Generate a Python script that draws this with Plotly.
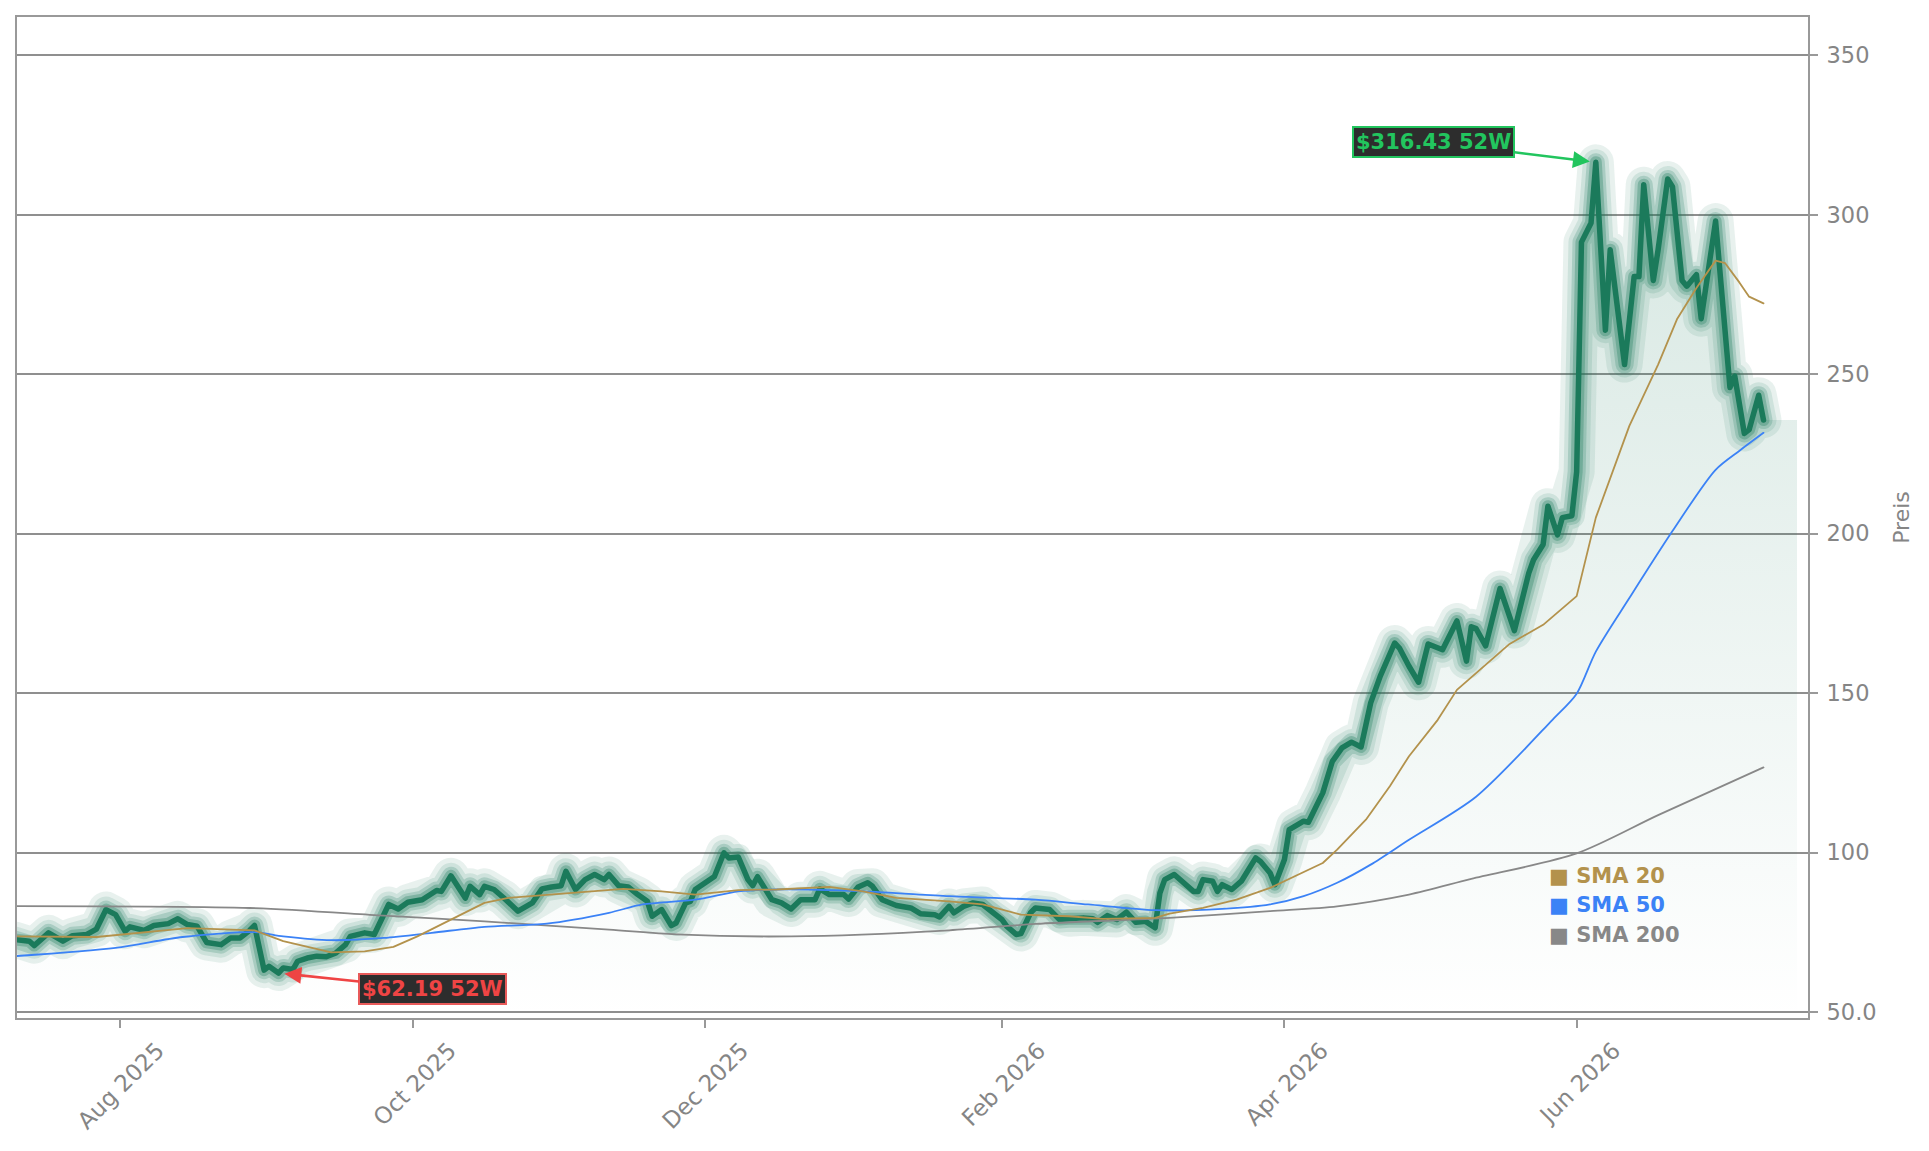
import plotly.graph_objects as go

# ---------------- data ----------------
price_dates = [
    "2025-07-10", "2025-07-13", "2025-07-14", "2025-07-17", "2025-07-20", "2025-07-22", "2025-07-25",
    "2025-07-27", "2025-07-29", "2025-07-31", "2025-08-02", "2025-08-03", "2025-08-06", "2025-08-08",
    "2025-08-11", "2025-08-13", "2025-08-15", "2025-08-17", "2025-08-19", "2025-08-21", "2025-08-22",
    "2025-08-24", "2025-08-26", "2025-08-28", "2025-08-29", "2025-08-31", "2025-09-01", "2025-09-03",
    "2025-09-04", "2025-09-06", "2025-09-07", "2025-09-09", "2025-09-11", "2025-09-13", "2025-09-15",
    "2025-09-17", "2025-09-18", "2025-09-21", "2025-09-23", "2025-09-26", "2025-09-28", "2025-09-30",
    "2025-10-03", "2025-10-06", "2025-10-07", "2025-10-09", "2025-10-12", "2025-10-13", "2025-10-15",
    "2025-10-16", "2025-10-18", "2025-10-20", "2025-10-23", "2025-10-26", "2025-10-28", "2025-10-30",
    "2025-11-01", "2025-11-02", "2025-11-04", "2025-11-06", "2025-11-08", "2025-11-10", "2025-11-11",
    "2025-11-13", "2025-11-15", "2025-11-17", "2025-11-19", "2025-11-20", "2025-11-22", "2025-11-24",
    "2025-11-25", "2025-11-27", "2025-11-28", "2025-11-29", "2025-12-03", "2025-12-05", "2025-12-06",
    "2025-12-08", "2025-12-10", "2025-12-11", "2025-12-12", "2025-12-15", "2025-12-17", "2025-12-19",
    "2025-12-21", "2025-12-24", "2025-12-25", "2025-12-27", "2025-12-30", "2025-12-31", "2026-01-02",
    "2026-01-04", "2026-01-05", "2026-01-07", "2026-01-10", "2026-01-13", "2026-01-15", "2026-01-18",
    "2026-01-19", "2026-01-21", "2026-01-22", "2026-01-24", "2026-01-26", "2026-01-28", "2026-01-30",
    "2026-02-01", "2026-02-02", "2026-02-04", "2026-02-05", "2026-02-07", "2026-02-08", "2026-02-11",
    "2026-02-13", "2026-02-15", "2026-02-18", "2026-02-20", "2026-02-21", "2026-02-23", "2026-02-25",
    "2026-02-27", "2026-03-01", "2026-03-03", "2026-03-05", "2026-03-06", "2026-03-07", "2026-03-09",
    "2026-03-11", "2026-03-13", "2026-03-14", "2026-03-15", "2026-03-17", "2026-03-18", "2026-03-19",
    "2026-03-21", "2026-03-23", "2026-03-24", "2026-03-26", "2026-03-27", "2026-03-29", "2026-03-30",
    "2026-04-01", "2026-04-02", "2026-04-03", "2026-04-05", "2026-04-06", "2026-04-09", "2026-04-11",
    "2026-04-13", "2026-04-15", "2026-04-17", "2026-04-19", "2026-04-21", "2026-04-24", "2026-04-25",
    "2026-04-27", "2026-04-29", "2026-05-01", "2026-05-04", "2026-05-07", "2026-05-09", "2026-05-10",
    "2026-05-11", "2026-05-13", "2026-05-16", "2026-05-19", "2026-05-22", "2026-05-23", "2026-05-25",
    "2026-05-26", "2026-05-28", "2026-05-29", "2026-05-31", "2026-06-01", "2026-06-02", "2026-06-04",
    "2026-06-05", "2026-06-07", "2026-06-08", "2026-06-11", "2026-06-13", "2026-06-14", "2026-06-15",
    "2026-06-17", "2026-06-18", "2026-06-20", "2026-06-21", "2026-06-23", "2026-06-24", "2026-06-26",
    "2026-06-27", "2026-06-30", "2026-07-03", "2026-07-04", "2026-07-06", "2026-07-07", "2026-07-09",
    "2026-07-10",
]
price_values = [
    72.7, 72.2, 70.8, 74.8, 72.2, 73.9, 74.3,
    76.0, 82.1, 80.5, 75.3, 76.7, 75.6, 77.1,
    77.7, 79.2, 77.4, 76.9, 71.8, 71.1, 71.1,
    73.2, 73.2, 75.6, 77.1, 63.1, 64.3, 62.19,
    63.8, 63.3, 65.9, 66.9, 67.5, 67.3, 68.5,
    71.1, 73.7, 74.8, 74.3, 83.7, 82.3, 84.4,
    85.2, 88.1, 87.8, 92.7, 85.7, 89.4, 86.8,
    89.4, 88.4, 85.8, 81.6, 84.2, 88.6, 89.2,
    89.6, 94.1, 88.4, 91.5, 93.1, 91.5, 93.1,
    89.6, 89.2, 86.8, 84.7, 80.0, 82.1, 77.1,
    77.9, 84.2, 84.7, 88.4, 92.5, 99.9, 98.3,
    98.6, 91.5, 89.6, 92.4, 85.2, 84.2, 82.3,
    85.2, 85.2, 88.6, 86.8, 86.8, 85.4, 89.2,
    90.5, 89.4, 85.2, 83.4, 82.6, 80.8, 80.5,
    79.8, 83.1, 81.1, 83.1, 84.2, 83.7, 81.1,
    79.0, 76.9, 74.3, 74.6, 81.1, 82.6, 82.1,
    79.0, 79.2, 79.5, 79.2, 78.1, 80.2, 79.0,
    81.3, 78.1, 78.4, 76.4, 87.3, 91.5, 93.1,
    90.7, 87.8, 87.8, 91.5, 91.0, 87.8, 89.9,
    88.4, 91.0, 93.6, 98.3, 97.2, 93.6, 89.9,
    97.8, 107.2, 108.2, 109.8, 109.5, 118.7, 128.6,
    132.8, 134.6, 133.1, 146.9, 155.3, 165.7, 164.1,
    158.4, 153.4, 165.4, 163.6, 172.6, 160.0, 170.8,
    170.2, 164.8, 182.8, 169.6, 187.6, 191.8, 196.6,
    208.6, 199.6, 205.0, 205.6, 219.4, 291.4, 297.4,
    316.43, 263.8, 289.0, 253.0, 280.6, 280.6, 309.4,
    279.4, 289.0, 311.2, 308.8, 279.4, 277.6, 281.2,
    267.4, 298.0, 245.8, 249.4, 231.4, 232.6, 243.4,
    235.6,
]
fill_end_date = "2026-07-17"

sma20_dates = [
    "2025-07-10", "2025-07-27", "2025-08-15", "2025-08-29", "2025-09-04", "2025-09-11", "2025-09-14",
    "2025-09-21", "2025-09-27", "2025-10-02", "2025-10-09", "2025-10-16", "2025-10-21", "2025-10-25",
    "2025-11-05", "2025-11-14", "2025-11-22", "2025-11-29", "2025-12-08", "2025-12-16", "2025-12-27",
    "2026-01-03", "2026-01-10", "2026-01-21", "2026-01-28", "2026-02-05", "2026-02-15", "2026-02-22",
    "2026-03-05", "2026-03-08", "2026-03-15", "2026-03-22", "2026-03-29", "2026-04-04", "2026-04-09",
    "2026-04-12", "2026-04-18", "2026-04-23", "2026-04-27", "2026-05-03", "2026-05-07", "2026-05-18",
    "2026-05-25", "2026-06-01", "2026-06-05", "2026-06-12", "2026-06-18", "2026-06-22", "2026-06-26",
    "2026-06-30", "2026-07-02", "2026-07-05", "2026-07-07", "2026-07-10",
]
sma20_values = [
    73.7, 73.5, 76.3, 75.6, 72.2, 69.6, 68.7,
    69.0, 70.4, 73.7, 78.9, 84.2, 85.8, 86.3,
    87.5, 88.6, 87.8, 86.8, 88.2, 88.4, 89.2,
    87.8, 85.8, 84.7, 83.7, 80.5, 80.0, 79.2,
    79.5, 80.8, 82.6, 85.2, 88.9, 93.1, 96.7,
    100.9, 110.3, 120.8, 130.2, 141.6, 151.0, 165.4,
    171.4, 180.4, 205.0, 233.8, 253.0, 267.4, 277.0,
    285.6, 284.8, 278.7, 274.3, 272.2,
]

sma50_dates = [
    "2025-07-10", "2025-07-31", "2025-08-14", "2025-08-29", "2025-09-04", "2025-09-14", "2025-09-25",
    "2025-10-05", "2025-10-16", "2025-10-29", "2025-11-11", "2025-11-18", "2025-11-29", "2025-12-08",
    "2025-12-16", "2026-01-03", "2026-01-21", "2026-02-08", "2026-02-19", "2026-03-05", "2026-03-19",
    "2026-03-29", "2026-04-05", "2026-04-12", "2026-04-19", "2026-04-27", "2026-05-11", "2026-05-27",
    "2026-06-01", "2026-06-05", "2026-06-12", "2026-06-21", "2026-06-30", "2026-07-05", "2026-07-10",
]
sma50_values = [
    67.5, 70.1, 73.5, 75.0, 73.7, 72.5, 73.2,
    74.8, 76.7, 77.7, 81.1, 83.7, 85.2, 87.8,
    88.4, 87.8, 86.3, 85.2, 83.7, 81.9, 82.3,
    83.7, 86.3, 90.5, 96.2, 104.0, 117.5, 141.7,
    149.8, 163.0, 179.8, 200.8, 220.0, 226.0, 231.6,
]

sma200_dates = [
    "2025-07-10", "2025-08-28", "2025-09-25", "2025-10-16", "2025-11-11", "2025-11-25", "2025-12-19",
    "2026-01-21", "2026-02-08", "2026-03-08", "2026-03-29", "2026-04-12", "2026-04-27", "2026-05-10",
    "2026-06-01", "2026-06-18", "2026-07-10",
]
sma200_values = [
    83.2, 82.6, 80.2, 78.4, 75.8, 74.3, 73.7,
    75.6, 77.6, 79.5, 81.6, 83.1, 86.8, 91.7,
    99.7, 111.7, 126.7,
]

high_date, high_value, high_label = "2026-06-05", 316.43, "$316.43 52W"
low_date, low_value, low_label = "2025-09-03", 62.19, "$62.19 52W"

y_tickvals = [50, 100, 150, 200, 250, 300, 350]
y_ticktext = ["50.0", "100", "150", "200", "250", "300", "350"]

legend_labels = ["SMA 20", "SMA 50", "SMA 200"]

# ---------------- styling ----------------
GREEN = "rgb(27,122,91)"
GOLD = "#b3924c"
BLUE = "#3b82f6"
GREY = "#888888"
AXIS_GREY = "#999999"
TEXT_GREY = "#858585"
FONT = "DejaVu Sans"

fig = go.Figure()

# gradient area under the price line
fig.add_trace(go.Scatter(
    x=price_dates + [fill_end_date],
    y=price_values + [price_values[-1]],
    mode="lines",
    line=dict(width=0, color="rgba(0,0,0,0)"),
    fill="tozeroy",
    fillgradient=dict(
        type="vertical",
        colorscale=[[0, "rgba(27,122,91,0.0)"], [1, "rgba(27,122,91,0.18)"]],
        start=48, stop=320,
    ),
    hoverinfo="skip", showlegend=False,
))

# glow layers
for w, a in [(36, 0.10), (26, 0.12), (18, 0.20), (12, 0.30)]:
    fig.add_trace(go.Scatter(
        x=price_dates, y=price_values, mode="lines",
        line=dict(width=w, color=f"rgba(27,122,91,{a})"),
        hoverinfo="skip", showlegend=False,
    ))

# main price line
fig.add_trace(go.Scatter(
    x=price_dates, y=price_values, mode="lines",
    line=dict(width=5.5, color=GREEN), name="Preis", showlegend=False,
))

# moving averages
fig.add_trace(go.Scatter(x=sma200_dates, y=sma200_values, mode="lines",
                         line=dict(width=1.8, color=GREY, shape="spline", smoothing=0.8),
                         name="SMA 200", showlegend=False))
fig.add_trace(go.Scatter(x=sma50_dates, y=sma50_values, mode="lines",
                         line=dict(width=1.8, color=BLUE, shape="spline", smoothing=0.8),
                         name="SMA 50", showlegend=False))
fig.add_trace(go.Scatter(x=sma20_dates, y=sma20_values, mode="lines",
                         line=dict(width=1.8, color=GOLD),
                         name="SMA 20", showlegend=False))

# 52-week high / low annotations
fig.add_annotation(
    x=high_date, y=high_value, text=high_label, showarrow=True,
    arrowhead=2, arrowsize=1.3, arrowwidth=2.6, arrowcolor="#22c55e", standoff=6,
    ax=-162, ay=-20,
    font=dict(family=FONT, size=21, color="#22c55e", weight="bold"),
    bgcolor="#2d2d2d", bordercolor="#22c55e", borderwidth=2, borderpad=2,
)
fig.add_annotation(
    x=low_date, y=low_value, text=low_label, showarrow=True,
    arrowhead=2, arrowsize=1.3, arrowwidth=2.6, arrowcolor="#ef4444", standoff=6,
    ax=154, ay=16,
    font=dict(family=FONT, size=21, color="#ef4444", weight="bold"),
    bgcolor="#2d2d2d", bordercolor="#e85a5a", borderwidth=2, borderpad=2,
)

# custom legend
for label, col, yp in zip(legend_labels, [GOLD, BLUE, GREY], [0.142, 0.1125, 0.083]):
    fig.add_annotation(
        xref="paper", yref="paper", x=0.854, y=yp, xanchor="left", yanchor="middle",
        text="\u25A0 " + label, showarrow=False,
        font=dict(family=FONT, size=21, color=col, weight="bold"),
    )

fig.update_layout(
    width=1929, height=1151,
    margin=dict(l=17, r=121, t=17, b=133),
    paper_bgcolor="white", plot_bgcolor="white",
    showlegend=False,
    font=dict(family=FONT, size=22, color=TEXT_GREY),
    xaxis=dict(
        type="date",
        range=["2025-07-10 10:00", "2026-07-19 07:00"],
        tickformat="%b %Y", dtick="M2", tick0="2025-08-01",
        tickangle=-45, ticklabelshift=37,
        tickfont=dict(family=FONT, size=23, color=TEXT_GREY),
        ticks="outside", ticklen=8, tickwidth=1.5, tickcolor=AXIS_GREY,
        showgrid=False, zeroline=False,
        showline=True, linecolor=AXIS_GREY, linewidth=2, mirror=True,
    ),
    yaxis=dict(
        side="right",
        range=[48.1, 362],
        tickvals=y_tickvals, ticktext=y_ticktext,
        tickfont=dict(family=FONT, size=22.5, color=TEXT_GREY),
        ticks="outside", ticklen=8, tickwidth=1.5, tickcolor=AXIS_GREY,
        ticklabelstandoff=4,
        showgrid=True, gridcolor="#8f8f8f", gridwidth=1.5,
        zeroline=False,
        showline=True, linecolor=AXIS_GREY, linewidth=2, mirror=True,
        title=dict(text="Preis", font=dict(family=FONT, size=22, color=TEXT_GREY), standoff=18),
    ),
)

round_joins = """
var gd = document.getElementById('{plot_id}');
function roundJoins() {
  gd.querySelectorAll('path.js-line').forEach(function (p) {
    p.style.strokeLinejoin = 'round';
    p.style.strokeLinecap = 'round';
  });
}
roundJoins();
setTimeout(roundJoins, 50);
if (gd.on) { gd.on('plotly_afterplot', roundJoins); }
"""

fig.write_html("out.html", post_script=round_joins)
